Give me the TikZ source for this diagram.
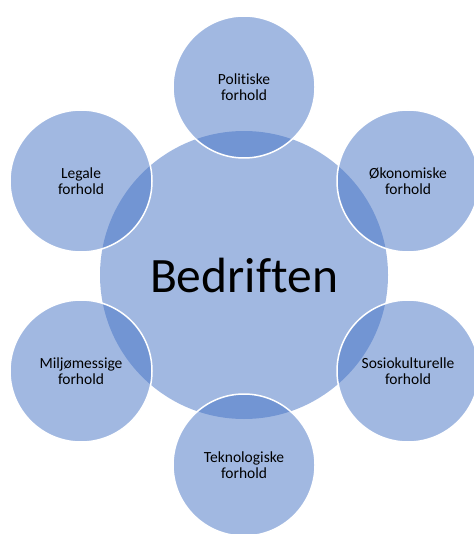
\documentclass[tikz,border=0pt]{standalone}
\usepackage{fontspec}
\setmainfont[Ligatures={NoCommon,NoContextual}]{Carlito}
\definecolor{smartblue}{RGB}{68,114,196}
\tikzset{
  kjerne/.style={circle, fill=smartblue, fill opacity=0.5, text opacity=1,
    minimum size=288pt, inner sep=0pt, font=\fontsize{49.5}{58}\selectfont},
  faktor/.style={circle, fill=smartblue, fill opacity=0.5, text opacity=1,
    draw=white, line width=1.5pt, minimum size=142pt, inner sep=0pt,
    align=center, font=\fontsize{15.5}{15.5}\selectfont},
}
\begin{document}
\begin{tikzpicture}[x=1pt,y=-1pt]
\useasboundingbox (0,0) rectangle (473,534);
\node[kjerne] (bedrift) at (244,275) {Bedriften};
\node[faktor] (politisk) at (244,87) {Politiske\\forhold};
\node[faktor] (okonomi) at (408,181) {Økonomiske\\forhold};
\node[faktor] (sosio) at (408,371) {Sosiokulturelle\\forhold};
\node[faktor] (teknologi) at (244,465) {Teknologiske\\forhold};
\node[faktor] (miljo) at (81,371) {Miljømessige\\forhold};
\node[faktor] (legal) at (81,181) {Legale\\forhold};
\end{tikzpicture}
\end{document}
